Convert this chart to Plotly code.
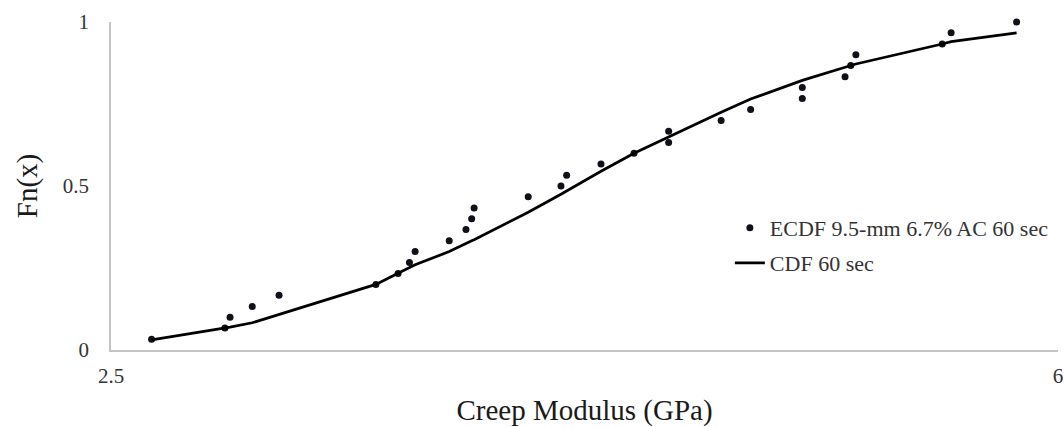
import plotly.graph_objects as go

# Creep modulus observations (GPa), sorted, with their empirical CDF levels
modulus_gpa = [2.650, 2.921, 2.940, 3.022, 3.121, 3.479, 3.561, 3.603, 3.624, 3.750,
               3.812, 3.833, 3.842, 4.042, 4.163, 4.184, 4.311, 4.433, 4.561, 4.561,
               4.755, 4.864, 5.055, 5.055, 5.213, 5.234, 5.253, 5.572, 5.605, 5.847]
ecdf_values = [0.033, 0.067, 0.100, 0.133, 0.167, 0.200, 0.233, 0.267, 0.300, 0.333,
               0.367, 0.400, 0.433, 0.467, 0.500, 0.533, 0.567, 0.600, 0.633, 0.667,
               0.700, 0.733, 0.767, 0.800, 0.833, 0.867, 0.900, 0.933, 0.967, 1.000]
# Fitted CDF evaluated at the same modulus values
cdf_values = [0.031, 0.067, 0.070, 0.083, 0.108, 0.200, 0.234, 0.253, 0.260, 0.300,
              0.326, 0.333, 0.336, 0.420, 0.475, 0.485, 0.545, 0.600, 0.650, 0.650,
              0.725, 0.765, 0.822, 0.822, 0.862, 0.867, 0.872, 0.933, 0.940, 0.967]

x_ticks = [2.5, 6]
x_tick_text = ["2.5", "6"]
y_ticks = [0, 0.5, 1]
y_tick_text = ["0", "0.5", "1"]

serif = "Liberation Serif, Times New Roman, serif"
legend_style = dict(
    x=0.6535, xanchor="left", yanchor="middle",
    bgcolor="rgba(0,0,0,0)", font=dict(size=22, color="#333333"), itemwidth=30,
)

fig = go.Figure()
fig.add_trace(go.Scatter(
    x=modulus_gpa, y=ecdf_values, mode="markers",
    name="ECDF 9.5-mm 6.7% AC 60 sec",
    marker=dict(color="#101018", size=7),
    cliponaxis=False,
    legend="legend",
))
fig.add_trace(go.Scatter(
    x=modulus_gpa, y=cdf_values, mode="lines",
    name="CDF 60 sec",
    line=dict(color="#000000", width=2.75),
    legend="legend2",
))

fig.update_layout(
    width=1064, height=427,
    margin=dict(l=111, r=6, t=22, b=77),
    paper_bgcolor="white", plot_bgcolor="white",
    font=dict(family=serif, color="#262626"),
    showlegend=True,
    legend=dict(y=0.372, **legend_style),
    legend2=dict(y=0.265, **legend_style),
    xaxis=dict(
        range=[2.5, 6], tickmode="array", tickvals=x_ticks, ticktext=x_tick_text,
        showgrid=False, zeroline=False, showline=True, linecolor="#c4c4c4", linewidth=1.5,
        ticks="", ticklabelstandoff=6, tickfont=dict(size=21, color="#333333"),
        automargin=False,
        title=dict(text="Creep Modulus (GPa)", font=dict(size=29, color="#1a1a1a"), standoff=15),
    ),
    yaxis=dict(
        range=[0, 1], tickmode="array", tickvals=y_ticks, ticktext=y_tick_text,
        showgrid=False, zeroline=False, showline=True, linecolor="#c4c4c4", linewidth=1.5,
        ticks="", ticklabelstandoff=16, tickfont=dict(size=21, color="#333333"),
        automargin=False,
        title=dict(text="Fn(x)", font=dict(size=29, color="#1a1a1a"), standoff=17),
    ),
)

fig.write_html("out.html")
